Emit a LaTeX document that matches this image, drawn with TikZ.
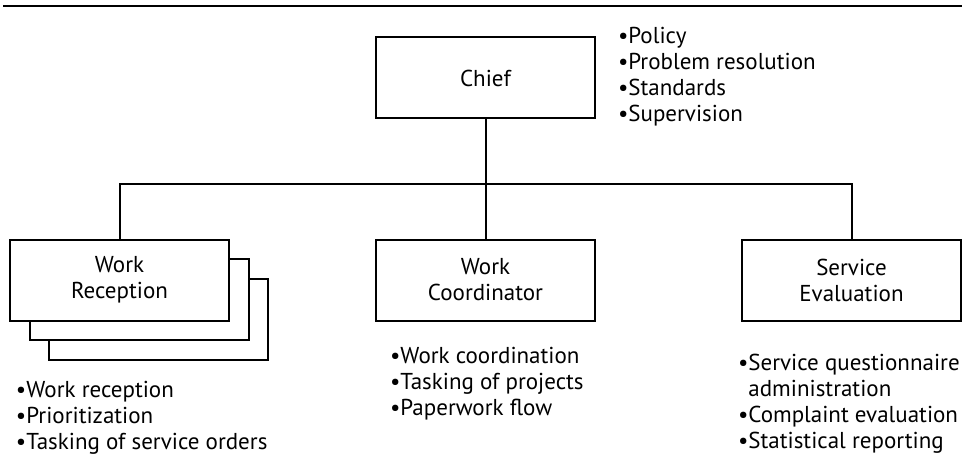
\documentclass[tikz,border=0pt]{standalone}
\usepackage{fontspec}
\setmainfont{PT Sans}
\usetikzlibrary{shadows}

\begin{document}
\begin{tikzpicture}[x=1pt,y=1pt,line width=2pt,
		unit/.style={shape=rectangle, draw, fill=white, align=center,
			minimum width=219pt, minimum height=81pt,
			font=\fontsize{23}{26}\selectfont},
		duties/.style={anchor=north west, align=left, inner sep=0pt,
			font=\fontsize{23}{26}\selectfont},
		stacked/.style={copy shadow={shadow xshift=39pt, shadow yshift=-39pt, draw, fill=white},
			copy shadow={shadow xshift=19.5pt, shadow yshift=-19.5pt, draw, fill=white}},
		level 1/.style={sibling distance=366pt},level distance=202pt,
		edge from parent path={(\tikzparentnode.south) -- ++(0,-64pt) -| (\tikzchildnode.north)}
	]
	\useasboundingbox (0,0) rectangle (968,-468);
	\draw (3,-6) -- (962,-6);
	\node[unit] (chief) at (485.5,-78) {Chief}
	child { node[unit, stacked] (reception) {Work\\Reception} }
	child { node[unit] (coordinator) {Work\\Coordinator} }
	child { node[unit] (evaluation) {Service\\Evaluation} }
	;
	% duties of each unit
	\node[duties] (chiefduty) at (617,-26) {\textbullet Policy\\\textbullet Problem resolution\\\textbullet Standards\\\textbullet Supervision};
	\node[duties] (receptionduty) at (15,-380) {\textbullet Work reception\\\textbullet Prioritization\\\textbullet Tasking of service orders};
	\node[duties] (coordinatorduty) at (389,-346) {\textbullet Work coordination\\\textbullet Tasking of projects\\\textbullet Paperwork flow};
	\node[duties] (evaluationduty) at (737,-353) {\textbullet Service questionnaire\\\phantom{\textbullet}administration\\\textbullet Complaint evaluation\\\textbullet Statistical reporting};
\end{tikzpicture}
\end{document}
